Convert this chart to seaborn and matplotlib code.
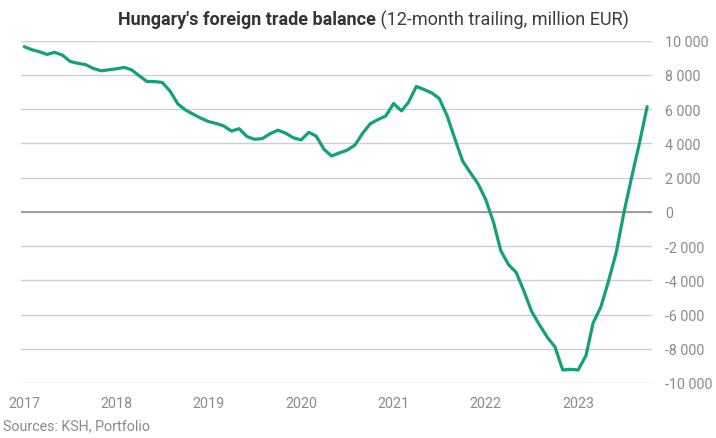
import pandas as pd
import seaborn as sns
import matplotlib.pyplot as plt
import matplotlib.dates as mdates
from matplotlib.ticker import FuncFormatter

# ── data: 12-month trailing trade balance, million EUR, monthly from Jan 2017 ──
start_month = "2017-01-01"
balance = [
    9650, 9470, 9360, 9200, 9320, 9160, 8790, 8680, 8600, 8380, 8240, 8300,   # 2017
    8360, 8440, 8300, 7950, 7620, 7610, 7560, 7050, 6300, 5950, 5700, 5470,   # 2018
    5270, 5160, 5020, 4720, 4860, 4400, 4240, 4280, 4570, 4770, 4600, 4330,   # 2019
    4200, 4650, 4420, 3650, 3260, 3450, 3600, 3900, 4600, 5150, 5400, 5600,   # 2020
    6330, 5900, 6400, 7330, 7150, 6950, 6620, 5600, 4240, 2970, 2280, 1640,   # 2021
    700, -650, -2270, -3090, -3540, -4650, -5820, -6600, -7330, -7880, -9240, -9200,  # 2022
    -9240, -8400, -6500, -5550, -4050, -2350, -50, 2050, 4050, 6150,          # 2023
]
y_ticks = list(range(-10000, 10001, 2000))
title_bold = "Hungary's foreign trade balance"
title_rest = " (12-month trailing, million EUR)"
source_text = "Sources: KSH, Portfolio"

df = pd.DataFrame({
    "month": pd.date_range(start_month, periods=len(balance), freq="MS"),
    "balance": balance,
})

sns.set_style("white")
plt.rcParams["font.family"] = ["Roboto", "DejaVu Sans"]

GREEN = "#14a078"
GREY_TXT = "#8a8a8a"

fig = plt.figure(figsize=(7.16, 4.39), dpi=100)
ax = fig.add_axes([20.7 / 716, 1 - 384 / 439, (651.7 - 20.7) / 716, (384 - 41.7) / 439])

# grid + zero line
for v in y_ticks:
    ax.axhline(v, color="#cfcfcf", linewidth=1.0, zorder=1)
ax.axhline(0, color="#8c8c8c", linewidth=1.1, zorder=2)

sns.lineplot(data=df, x="month", y="balance", color=GREEN, linewidth=2.3, ax=ax, zorder=3)

ax.set_ylim(-10000, 10000)
ax.set_xlim(pd.Timestamp("2016-12-18"), pd.Timestamp("2023-10-19"))
ax.set_yticks(y_ticks)
ax.yaxis.set_major_formatter(FuncFormatter(lambda v, p: f"{int(v):,}".replace(",", " ")))
ax.yaxis.tick_right()
ax.xaxis.set_major_locator(mdates.YearLocator())
ax.xaxis.set_major_formatter(mdates.DateFormatter("%Y"))
ax.tick_params(axis="y", length=0, pad=9.6, labelsize=10.3, labelcolor=GREY_TXT)
ax.tick_params(axis="x", length=0, pad=9.4, labelsize=10.3, labelcolor=GREY_TXT)
for lbl in ax.get_yticklabels():
    lbl.set_horizontalalignment("left")
ax.set_xlabel("")
ax.set_ylabel("")
sns.despine(ax=ax, left=True, bottom=True, right=True, top=True)

# title: bold part + regular part, centred as one line
fig.canvas.draw()
r = fig.canvas.get_renderer()
ty = 1 - 20 / 439
t1 = fig.text(0, ty, title_bold, fontsize=13, fontweight="bold", color="#333333", va="center")
t2 = fig.text(0, ty, title_rest, fontsize=13, color="#3c3c3c", va="center")
w1 = t1.get_window_extent(r).width
w2 = t2.get_window_extent(r).width
x0 = 373 - (w1 + w2) / 2
t1.set_x(x0 / 716)
t2.set_x((x0 + w1) / 716)

fig.text(3 / 716, 1 - 426 / 439, source_text, fontsize=10.3, color=GREY_TXT, va="center")

plt.savefig("out.png", dpi=100)
